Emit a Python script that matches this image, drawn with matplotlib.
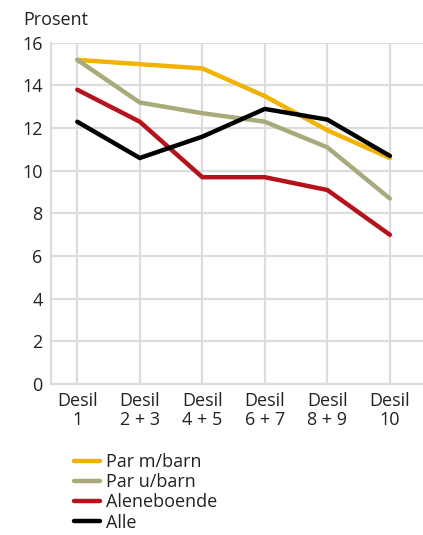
import matplotlib
matplotlib.use("Agg")
import matplotlib.pyplot as plt
from matplotlib.lines import Line2D

plt.rcParams['font.family'] = ['Open Sans', 'DejaVu Sans']

categories = ["Desil\n1", "Desil\n2 + 3", "Desil\n4 + 5", "Desil\n6 + 7", "Desil\n8 + 9", "Desil\n10"]
par_m_barn = [15.2, 15.0, 14.8, 13.5, 11.9, 10.6]
par_u_barn = [15.2, 13.2, 12.7, 12.3, 11.1, 8.7]
aleneboende = [13.8, 12.3, 9.7, 9.7, 9.1, 7.0]
alle = [12.3, 10.6, 11.6, 12.9, 12.4, 10.7]
series_names = ["Par m/barn", "Par u/barn", "Aleneboende", "Alle"]
colors = ["#f2b300", "#a9aa7c", "#b5121b", "#000000"]
yticks = [0, 2, 4, 6, 8, 10, 12, 14, 16]

FS = 13
fig = plt.figure(figsize=(4.23, 5.35), dpi=100)
ax = fig.add_axes([0.1206, 0.282, 0.8794, 0.638])
x = list(range(len(categories)))
for vals, c, n in zip([par_m_barn, par_u_barn, aleneboende, alle], colors, series_names):
    ax.plot(x, vals, color=c, lw=3.2, solid_capstyle='round', solid_joinstyle='miter', label=n, zorder=3)

ax.set_xlim(-0.42, 5.53)
ax.set_ylim(0, 16)
ax.set_yticks(yticks)
ax.set_xticks(x)
ax.set_xticklabels(categories, fontsize=FS, linespacing=1.05, color="#222222")
ax.tick_params(axis='y', labelsize=FS, length=0, pad=6, labelcolor="#222222")
ax.tick_params(axis='x', length=0, pad=6)
ax.grid(True, color="#dcdcdc", lw=1.6)
ax.set_axisbelow(True)
for s in ['top', 'right']:
    ax.spines[s].set_visible(False)
for s in ['left', 'bottom']:
    ax.spines[s].set_color("#dcdcdc")
    ax.spines[s].set_linewidth(1.6)

fig.text(23/423, 1 - 20/535, "Prosent", fontsize=FS, va='center', ha='left', color="#222222")

handles = [Line2D([0], [0], color=c, lw=3.2, solid_capstyle='round') for c in colors]
leg = fig.legend(handles, series_names, loc='upper left', bbox_to_anchor=(74/423, 1 - 453/535),
                 frameon=False, fontsize=FS, handlelength=1.45, handletextpad=0.35,
                 labelspacing=0.12, borderpad=0, borderaxespad=0)
for t in leg.get_texts():
    t.set_color("#222222")

fig.savefig("out.png", dpi=100)
